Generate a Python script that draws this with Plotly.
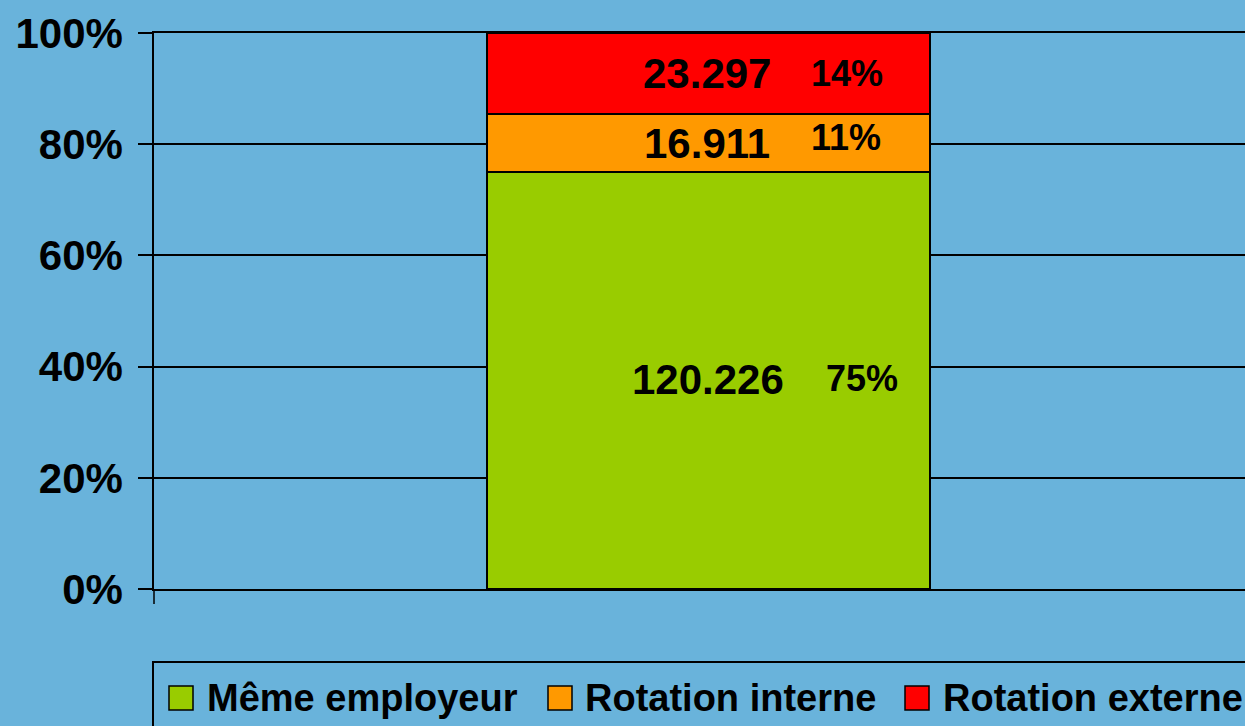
import plotly.graph_objects as go

# ---- data ----
categories = [""]
series_names = ["Même employeur", "Rotation interne", "Rotation externe"]
series_values = [120.226, 16.911, 23.297]
value_labels = ["120.226", "16.911", "23.297"]
pct_labels = ["75%", "11%", "14%"]
y_ticks = [0, 20, 40, 60, 80, 100]
y_tick_text = ["0%", "20%", "40%", "60%", "80%", "100%"]

# ---- style ----
colors = ["#99CC00", "#FF9900", "#FF0000"]
bg = "#69B3DB"
FONT = "Liberation Sans, Arial, sans-serif"
W, H = 1245, 726
ML, MT, MB = 154, 33, 137
plot_w = W - ML
plot_h = H - MT - MB
num_xshift = [8, 7, 7]
num_yshift = [1, 0, 0]
pct_xshift = [162, 146, 147]
pct_yshift = [2, 6, 0]

fig = go.Figure()
for name, val, col in zip(series_names, series_values, colors):
    fig.add_trace(go.Bar(
        x=categories, y=[val], name=name, width=0.4,
        marker=dict(color=col, line=dict(color="black", width=2)),
        showlegend=False,
    ))

total = sum(series_values)
annotations = []
cum = 0.0
for i, val in enumerate(series_values):
    pct = val / total * 100
    mid = cum + pct / 2
    cum += pct
    annotations.append(dict(
        x=categories[0], y=mid, xref="x", yref="y", text=value_labels[i],
        showarrow=False, font=dict(family=FONT, size=42, color="black", weight="bold"),
        xanchor="center", yanchor="middle", xshift=num_xshift[i], yshift=num_yshift[i],
    ))
    annotations.append(dict(
        x=categories[0], y=mid, xref="x", yref="y", text=pct_labels[i],
        showarrow=False, font=dict(family=FONT, size=36, color="black", weight="bold"),
        xanchor="center", yanchor="middle", xshift=pct_xshift[i], yshift=pct_yshift[i],
    ))

def px_x(px):
    return (px - ML) / plot_w

def px_y(py):
    return (H - MB - py) / plot_h

shapes = []
# category tick below axis at left edge
shapes.append(dict(type="line", xref="paper", yref="paper",
                   x0=0, x1=0, y0=px_y(589), y1=px_y(604),
                   line=dict(color="black", width=1.5)))
# legend box
shapes.append(dict(type="rect", xref="paper", yref="paper",
                   x0=px_x(153), x1=px_x(1300), y0=px_y(662), y1=px_y(760),
                   line=dict(color="black", width=2), fillcolor="rgba(0,0,0,0)"))
legend_sq_x = [169, 548, 905]
legend_txt_x = [205, 583, 941]
for i, name in enumerate(series_names):
    shapes.append(dict(type="rect", xref="paper", yref="paper",
                       x0=px_x(legend_sq_x[i]), x1=px_x(legend_sq_x[i] + 24),
                       y0=px_y(686), y1=px_y(710),
                       line=dict(color="black", width=1.5), fillcolor=colors[i]))
    annotations.append(dict(
        x=px_x(legend_txt_x[i]), y=px_y(698), xref="paper", yref="paper",
        text=name, showarrow=False, xanchor="left", yanchor="middle",
        font=dict(family=FONT, size=38, color="black", weight="bold"),
    ))

fig.update_layout(
    width=W, height=H,
    margin=dict(l=ML, r=0, t=MT, b=MB, pad=0),
    paper_bgcolor=bg, plot_bgcolor=bg,
    barmode="stack", barnorm="percent",
    showlegend=False,
    annotations=annotations, shapes=shapes,
    xaxis=dict(type="category", range=[-0.5, 0.484], showticklabels=False,
               showgrid=False, zeroline=False, showline=True, mirror=True,
               linecolor="black", linewidth=1.5, ticks=""),
    yaxis=dict(range=[0, 100], tickmode="array", tickvals=y_ticks, ticktext=y_tick_text,
               showgrid=True, gridcolor="black", gridwidth=1.5,
               zeroline=False, showline=True, linecolor="black", linewidth=1.5,
               ticks="outside", ticklen=14, tickcolor="black", tickwidth=1.5,
               ticklabelstandoff=7,
               tickfont=dict(family=FONT, size=42, color="black", weight="bold")),
)

fig.write_html(
    "out.html",
    config={"displayModeBar": False},
    post_script="document.body.style.margin='0';document.body.style.overflow='hidden';document.body.style.background='" + bg + "';",
)
